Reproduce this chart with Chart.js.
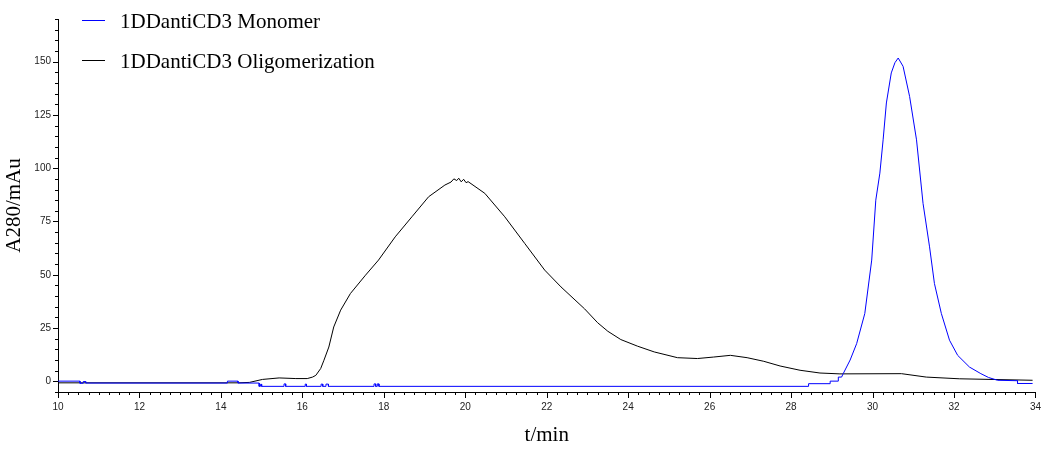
<!DOCTYPE html>
<html>
<head>
<meta charset="utf-8">
<title>1DDantiCD3 SEC</title>
<script src="https://cdn.jsdelivr.net/npm/chart.js@4.4.1/dist/chart.umd.min.js"></script>
<style>
  html, body { margin: 0; padding: 0; background: #fff; }
  #wrap { width: 1050px; height: 450px; }
</style>
</head>
<body>
<div id="wrap"><canvas id="secChart" width="1050" height="450"></canvas></div>
<script>
// labelled ticks
const xLabelValues = [10, 12, 14, 16, 18, 20, 22, 24, 26, 28, 30, 32, 34];
const yLabelValues = [0, 25, 50, 75, 100, 125, 150];

const seriesNames = ['1DDantiCD3 Monomer', '1DDantiCD3 Oligomerization'];

// monomer trace (t/min, A280/mAu)
const monomerTime = [
  10, 10.54, 10.54, 10.62, 10.62, 10.68, 10.68, 14.16, 14.16, 14.42, 14.42, 14.94, 14.94,
  14.97, 14.97, 15.0, 15.0, 15.55, 15.55, 15.59, 15.59, 16.07, 16.07, 16.1, 16.1,
  16.46, 16.46, 16.5, 16.5, 16.58, 16.58, 16.64, 16.64, 17.76, 17.76, 17.8, 17.8,
  17.84, 17.84, 17.88, 17.88, 28.43, 28.43, 28.96, 28.96, 29.16, 29.16, 29.24,
  29.28, 29.45, 29.61, 29.81, 29.98, 30.08, 30.18, 30.26, 30.34, 30.46, 30.55, 30.63,
  30.75, 30.91, 31.08, 31.24, 31.4, 31.52, 31.69, 31.89, 32.09, 32.38, 32.66, 32.85,
  33.07, 33.56, 33.56, 33.93
];
const monomerA280 = [
  0.1, 0.1, -0.9, -0.9, -0.1, -0.1, -0.8, -0.8, 0.1, 0.1, -0.8, -0.8, -2.35,
  -2.35, -1.4, -1.4, -2.35, -2.35, -1.2, -1.2, -2.35, -2.35, -1.3, -1.3, -2.35,
  -2.35, -1.3, -1.3, -2.35, -2.35, -1.3, -1.3, -2.35, -2.35, -1.2, -1.2, -2.35,
  -2.35, -1.2, -1.2, -2.35, -2.35, -1.1, -1.1, 0.1, 0.1, 2.0, 2.0,
  3.6, 10, 17.7, 31.8, 56.9, 85, 97.7, 113.3, 130.6, 144.7, 149.5, 151.7,
  147.8, 133.7, 113.3, 83.5, 63.1, 45.9, 31.8, 19.3, 12.2, 6.7, 3.6, 1.8,
  0.5, 0.3, -1.0, -1.0
];

// oligomerization trace (t/min, A280/mAu)
const oligoTime = [
  10, 14.42, 14.7, 15.02, 15.43, 15.84, 16.12, 16.25, 16.33, 16.45, 16.53, 16.65, 16.77,
  16.94, 17.18, 17.55, 17.87, 18.28, 18.69, 19.1, 19.5, 19.65, 19.72, 19.79, 19.84,
  19.9, 19.96, 20.02, 20.07, 20.48, 20.97, 21.46, 21.95, 22.35, 22.93, 23.25, 23.5,
  23.82, 24.23, 24.64, 25.21, 25.7, 26.1, 26.51, 26.92, 27.33, 27.73, 28.22, 28.71,
  29.2, 30.71, 31.32, 32.13, 33.93
];
const oligoA280 = [
  -0.7, -0.7, -0.5, 0.9, 1.6, 1.3, 1.3, 2.0, 2.8, 6, 9.9, 16.1, 25.5,
  33.4, 41.2, 49.8, 56.9, 67.8, 77.2, 86.6, 92.1, 93.5, 95, 94.2, 95.3,
  93.6, 94.8, 93.2, 93.7, 88.2, 77.2, 64.7, 52.2, 44.3, 34, 27.5, 23.5,
  19.6, 16.5, 13.8, 11.1, 10.7, 11.4, 12.2, 11.1, 9.4, 7.2, 5.2, 3.9,
  3.5, 3.6, 2.0, 1.2, 0.5
];

const seriesColors = ['#0000ff', '#000000'];

function toPoints(xs, ys) {
    return xs.map((x, i) => ({ x: x, y: ys[i] }));
}

const serifFont = 'Liberation Serif';
const sansFont = 'Liberation Sans';

// short minor ticks everywhere, longer ones at labelled values
const tickMarks = {
    id: 'tickMarks',
    afterDraw(chart) {
        const { ctx, chartArea, scales } = chart;
        ctx.save();
        ctx.strokeStyle = '#000';
        ctx.lineWidth = 1;
        ctx.beginPath();
        scales.x.ticks.forEach(t => {
            const px = Math.round(scales.x.getPixelForValue(t.value)) + 0.5;
            const len = xLabelValues.includes(t.value) ? 6 : 3;
            ctx.moveTo(px, chartArea.bottom);
            ctx.lineTo(px, chartArea.bottom + len);
        });
        scales.y.ticks.forEach(t => {
            const py = Math.round(scales.y.getPixelForValue(t.value)) + 0.5;
            const len = yLabelValues.includes(t.value) ? 5 : 3;
            ctx.moveTo(chartArea.left, py);
            ctx.lineTo(chartArea.left - len, py);
        });
        ctx.stroke();
        ctx.restore();
    }
};

// legend inside the plot, top left
const insideLegend = {
    id: 'insideLegend',
    afterDraw(chart) {
        const { ctx, chartArea } = chart;
        ctx.save();
        ctx.font = '21px "' + serifFont + '"';
        ctx.textBaseline = 'middle';
        ctx.textAlign = 'left';
        chart.data.datasets.forEach((ds, i) => {
            const y = chartArea.top + 1.5 + i * 40;
            ctx.strokeStyle = ds.borderColor;
            ctx.lineWidth = 1;
            ctx.beginPath();
            ctx.moveTo(chartArea.left + 24, y);
            ctx.lineTo(chartArea.left + 47, y);
            ctx.stroke();
            ctx.fillStyle = '#000';
            ctx.fillText(ds.label, chartArea.left + 62, y + 1.5);
        });
        ctx.restore();
    }
};

const canvas = document.getElementById('secChart');

new Chart(canvas.getContext('2d'), {
    type: 'line',
    data: {
        datasets: [
            {
                label: seriesNames[0],
                data: toPoints(monomerTime, monomerA280),
                borderColor: seriesColors[0],
                borderWidth: 1,
                pointRadius: 0,
                tension: 0,
                fill: false
            },
            {
                label: seriesNames[1],
                data: toPoints(oligoTime, oligoA280),
                borderColor: seriesColors[1],
                borderWidth: 1,
                pointRadius: 0,
                tension: 0,
                fill: false
            }
        ]
    },
    options: {
        responsive: false,
        animation: false,
        events: [],
        layout: { padding: { left: 0, top: 19, right: 8, bottom: 0 } },
        plugins: {
            legend: { display: false },
            tooltip: { enabled: false }
        },
        scales: {
            x: {
                type: 'linear',
                min: 10,
                max: 34,
                grid: { display: false, drawTicks: false },
                border: { display: true, color: '#000', width: 1 },
                ticks: {
                    stepSize: 0.25,
                    autoSkip: false,
                    maxRotation: 0,
                    padding: 9,
                    color: '#222',
                    font: { family: sansFont, size: 10 },
                    callback: v => xLabelValues.includes(v) ? String(v) : ''
                },
                title: {
                    display: true,
                    text: 't/min',
                    color: '#000',
                    font: { family: serifFont, size: 21 },
                    padding: { top: 0, bottom: 2 }
                },
                afterFit: scale => { scale.height = 58; }
            },
            y: {
                min: -5,
                max: 170,
                grid: { display: false, drawTicks: false },
                border: { display: true, color: '#000', width: 1 },
                ticks: {
                    stepSize: 5,
                    autoSkip: false,
                    padding: 7,
                    color: '#222',
                    font: { family: sansFont, size: 10 },
                    callback: v => yLabelValues.includes(v) ? String(v) : ''
                },
                title: {
                    display: true,
                    text: 'A280/mAu',
                    color: '#000',
                    font: { family: serifFont, size: 21 },
                    padding: { top: 2, bottom: 0 }
                },
                afterFit: scale => { scale.width = 58; }
            }
        }
    },
    plugins: [tickMarks, insideLegend]
});
</script>
</body>
</html>
